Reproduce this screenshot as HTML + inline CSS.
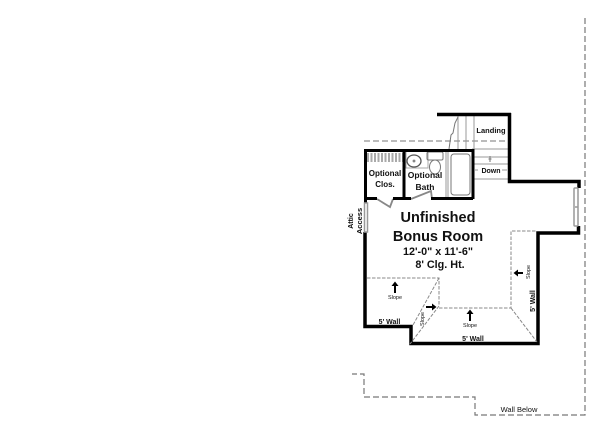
<!DOCTYPE html>
<html><head><meta charset="utf-8"><style>
html,body{margin:0;padding:0;background:#fff}
svg{display:block;filter:blur(.35px)}
text{font-family:"Liberation Sans",sans-serif;fill:#111;text-anchor:middle}
</style></head><body>
<svg width="600" height="426" viewBox="0 0 600 426" xmlns="http://www.w3.org/2000/svg">
<rect width="600" height="426" fill="#fff"/>
<!-- outer dashed wall below -->
<path d="M585 18V415H475V397H364V374H352" fill="none" stroke="#777" stroke-width="1.200" stroke-dasharray="6 3"/>
<!-- dashed upper line -->
<path d="M364 141H508" fill="none" stroke="#777" stroke-width="1" stroke-dasharray="6 3"/>
<!-- stairs -->
<g fill="none" stroke="#999" stroke-width="1">
<path d="M458 116V150M466 116V150M474 116V150M472 149H508M473 157H508M473 164H508M473 179H508M475 170H478M502 170H507"/>
<path d="M458 117L455 123L453 133L451 135L449 149" stroke="#777"/>
<path d="M448 150V198M446 152V198"/>
<rect x="451" y="154" width="19" height="41" rx="3" stroke="#777"/>
<!-- closet rod -->
<path d="M367 157.500H403" stroke="#aaa" stroke-width="9" stroke-dasharray="2 1.500"/>
<!-- vanity -->
<path d="M406 152V168H428V152" stroke="#aaa"/>
<ellipse cx="414" cy="161" rx="7" ry="6" stroke="#555" stroke-width="1.300"/>
<circle cx="414" cy="161" r="1" fill="#333"/>
<!-- toilet -->
<rect x="427" y="152" width="16" height="8" rx="1.500" stroke="#777"/>
<ellipse cx="435" cy="167" rx="5.500" ry="7" stroke="#777"/>
</g>
<path d="M490 156V162M488.500 159H491.500" stroke="#888" stroke-width="1.200"/>
<!-- doors -->
<g fill="none" stroke="#888" stroke-width="1.800">
<path d="M377 199L390 207L393 199"/>
<path d="M411 199L431 191L432 199"/>
</g>
<!-- main walls -->
<g fill="none" stroke="#000" stroke-linecap="butt">
<path d="M437 114.500H511" stroke-width="3.500"/>
<path d="M509.500 113V181.500H579V188" stroke-width="3.500"/>
<path d="M578.500 226V233H538V343.500H411V326.500H365V232" stroke-width="3.500"/>
<path d="M365.500 203V150.500H473V199" stroke-width="3"/>
<path d="M404 150V199" stroke-width="3"/>
<path d="M365 198.500H377M393 198.500H411M431 198.500H473" stroke-width="3"/>
</g>
<!-- windows -->
<g fill="none" stroke="#999" stroke-width="1.500">
<rect x="364.500" y="203" width="3" height="29"/>
<rect x="574" y="188" width="4" height="38" rx="1"/>
<path d="M575 207H578"/>
</g>
<!-- slope lines -->
<g fill="none" stroke="#888" stroke-width="1" stroke-dasharray="3.500 1.500">
<path d="M367 278H439V306"/>
<path d="M439 308H511V231H537"/>
<path d="M439 278L413 325"/>
<path d="M439 306L410 344"/>
<path d="M511 308L537 342"/>
</g>
<!-- arrows -->
<g fill="#000" stroke="none">
<path d="M394 293V286H391.500L395 281.500L398.500 286H396V293Z"/>
<path d="M469 321V314H466.500L470 309.500L473.500 314H471V321Z"/>
<path d="M426 306H432V303.500L436.500 307L432 310.500V308H426Z"/>
<path d="M523 272H518V269.500L513.500 273L518 276.500V274H523Z"/>
</g>
<!-- labels -->
<text x="438" y="222" font-size="14.500" font-weight="bold">Unfinished</text>
<text x="438" y="241" font-size="14.500" font-weight="bold">Bonus Room</text>
<text x="438" y="255" font-size="10.800" font-weight="bold">12'-0" x 11'-6"</text>
<text x="440" y="268" font-size="10.800" font-weight="bold">8' Clg. Ht.</text>
<text x="385" y="176" font-size="8" font-weight="bold">Optional</text>
<text x="385" y="187" font-size="8" font-weight="bold">Clos.</text>
<text x="425" y="178" font-size="8.500" font-weight="bold">Optional</text>
<text x="425" y="190" font-size="8.500" font-weight="bold">Bath</text>
<text x="491" y="133" font-size="7.500" font-weight="bold">Landing</text>
<text x="491" y="173" font-size="7" font-weight="bold">Down</text>
<text x="395" y="299" font-size="5.500">Slope</text>
<text x="470" y="327" font-size="5.500">Slope</text>
<text x="389.500" y="324" font-size="7" font-weight="bold">5' Wall</text>
<text x="473" y="341" font-size="7" font-weight="bold">5' Wall</text>
<text x="519" y="412" font-size="7.500">Wall Below</text>
<text transform="translate(353,221) rotate(-90)" font-size="7" font-weight="bold">Attic</text>
<text transform="translate(362,221) rotate(-90)" font-size="7.500" font-weight="bold">Access</text>
<text transform="translate(530,272) rotate(-90)" font-size="5.500">Slope</text>
<text transform="translate(535,301) rotate(-90)" font-size="7" font-weight="bold">5' Wall</text>
<text transform="translate(424,319) rotate(-90)" font-size="5.500">Slope</text>
</svg>
</body></html>
